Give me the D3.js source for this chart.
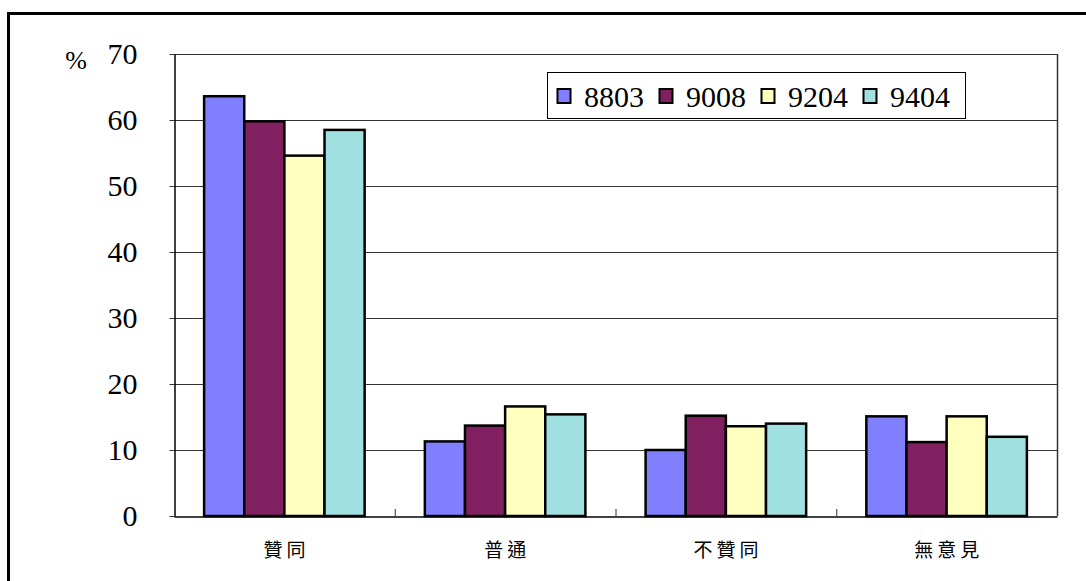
<!DOCTYPE html>
<html><head><meta charset="utf-8">
<script src="https://cdn.jsdelivr.net/npm/d3@7"></script>
<style>body{margin:0;background:#fff;} svg{display:block;}</style>
</head><body>
<svg id="c" width="1086" height="581"></svg>
<script>
const categories = ["贊同", "普通", "不贊同", "無意見"];
const seriesNames = ["8803", "9008", "9204", "9404"];
const s8803 = [63.6, 11.3, 10.0, 15.1];
const s9008 = [59.8, 13.7, 15.2, 11.2];
const s9204 = [54.6, 16.6, 13.6, 15.1];
const s9404 = [58.5, 15.4, 14.0, 12.0];
const yTicks = [0, 10, 20, 30, 40, 50, 60, 70];
const colors = ["#8080FF", "#802060", "#FFFFC0", "#A0E0E0"];

const SERIF = '"Liberation Serif"';
const CJK = '"Noto Sans CJK TC"';
const series = [s8803, s9008, s9204, s9404];
const svg = d3.select("#c");
const L = 174, R = 1057, T = 54, B = 516;

// outer frame
svg.append("rect").attr("x", 8.5).attr("y", 13.5).attr("width", 1100).attr("height", 600)
  .attr("fill", "none").attr("stroke", "#000").attr("stroke-width", 3);

const x = d3.scaleBand().domain(categories).range([L, R]).padding(0);
const y = d3.scaleLinear().domain([0, 70]).range([B, T]);
const bw = x.bandwidth();
const inner = d3.scaleBand().domain(seriesNames).range([0, bw]).paddingOuter(0.75).paddingInner(0);

// gridlines
svg.append("g").selectAll("line").data(yTicks.filter(d => d > 0)).join("line")
  .attr("x1", L).attr("x2", R).attr("y1", d => Math.round(y(d)) + 0.5).attr("y2", d => Math.round(y(d)) + 0.5)
  .attr("stroke", "#333").attr("stroke-width", 1.2);
// right border
svg.append("line").attr("x1", R + 0.5).attr("x2", R + 0.5).attr("y1", T).attr("y2", B)
  .attr("stroke", "#333").attr("stroke-width", 1.5);

// bars
const groups = svg.append("g").selectAll("g").data(categories).join("g")
  .attr("transform", d => `translate(${x(d)},0)`);
groups.selectAll("rect").data((c, i) => series.map((s, j) => ({ name: seriesNames[j], v: s[i], j })))
  .join("rect")
  .attr("x", d => inner(d.name)).attr("width", inner.bandwidth())
  .attr("y", d => y(d.v)).attr("height", d => B - y(d.v))
  .attr("fill", d => colors[d.j]).attr("stroke", "#000").attr("stroke-width", 2.5);

// y axis
const ya = svg.append("g").attr("transform", `translate(${L + 0.5},0)`)
  .call(d3.axisLeft(y).tickValues(yTicks).tickSize(5).tickSizeOuter(0).tickPadding(32));
ya.select(".domain").attr("stroke", "#000").attr("stroke-width", 1.5);
ya.selectAll(".tick line").attr("stroke", "#333");
ya.selectAll("text").style("font-family", SERIF).style("font-size", "30px").attr("fill", "#000").attr("dy", "0.33em");

svg.append("text").attr("x", 76).attr("y", 69).attr("text-anchor", "middle")
  .style("font-family", SERIF).style("font-size", "26px").text("%");

// x axis
const xa = svg.append("g").attr("transform", `translate(0,${B + 0.5})`)
  .call(d3.axisBottom(x).tickSize(0).tickPadding(27));
xa.select(".domain").attr("stroke", "#000").attr("stroke-width", 1.5);
xa.selectAll("text").style("font-family", CJK).style("font-size", "19px")
  .attr("letter-spacing", 4).attr("dx", 2).attr("fill", "#000");
// category boundary ticks (inside)
svg.append("g").selectAll("line").data(categories.slice(1)).join("line")
  .attr("x1", d => x(d) + 0.5).attr("x2", d => x(d) + 0.5).attr("y1", B).attr("y2", B - 7)
  .attr("stroke", "#333").attr("stroke-width", 1);

// legend
const lg = svg.append("g").attr("transform", "translate(547,72)");
lg.append("rect").attr("x", 0.5).attr("y", 0.5).attr("width", 418).attr("height", 46)
  .attr("fill", "#fff").attr("stroke", "#000").attr("stroke-width", 1);
const items = lg.selectAll("g").data(seriesNames).join("g")
  .attr("transform", (d, i) => `translate(${10 + i * 102},0)`);
items.append("rect").attr("x", 0.5).attr("y", 17).attr("width", 13).attr("height", 14)
  .attr("fill", (d, i) => colors[i]).attr("stroke", "#000").attr("stroke-width", 2);
items.append("text").attr("x", 27).attr("y", 35)
  .style("font-family", SERIF).style("font-size", "30px").text(d => d);
</script>
</body></html>
